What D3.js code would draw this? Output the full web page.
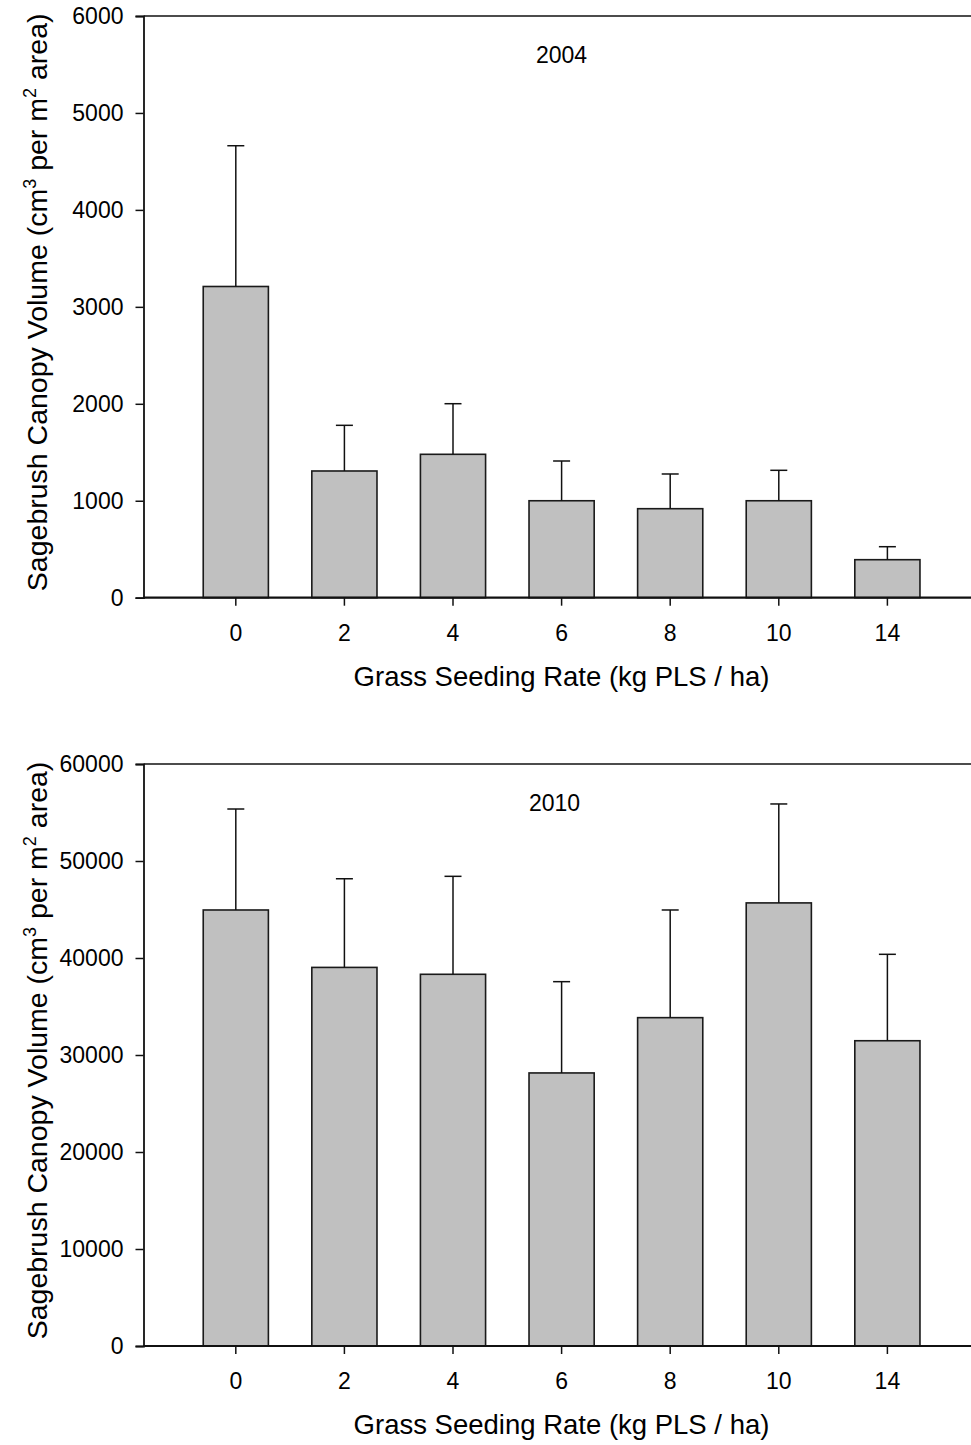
<!DOCTYPE html>
<html>
<head>
<meta charset="utf-8">
<script src="https://cdn.jsdelivr.net/npm/d3@7"></script>
<style>
  html, body { margin: 0; padding: 0; background: #fff; }
  svg { display: block; font-family: "Liberation Sans", Arial, sans-serif; }
</style>
</head>
<body>
<svg id="chart" width="971" height="1445"></svg>
<script>
const categories = ["0", "2", "4", "6", "8", "10", "14"];
const means2004 = [3210, 1307, 1479, 1000, 918, 1000, 392];
const upper2004 = [4662, 1778, 2001, 1410, 1276, 1314, 526];
const means2010 = [44950, 39030, 38320, 28150, 33850, 45680, 31470];
const upper2010 = [55360, 48170, 48420, 37560, 44950, 55880, 40380];
const yTicks2004 = [0, 1000, 2000, 3000, 4000, 5000, 6000];
const yTicks2010 = [0, 10000, 20000, 30000, 40000, 50000, 60000];
const panelLabels = ["2004", "2010"];
const xTitle = "Grass Seeding Rate (kg PLS / ha)";

const svg = d3.select("#chart");
const W = 971;

function panel(cfg) {
  const g = svg.append("g");
  const left = 143.5, top = cfg.top, bottom = cfg.bottom;
  const x = d3.scaleBand().domain(categories).range([left, 979.7])
    .paddingInner(0.4).paddingOuter(0.55);
  const y = d3.scaleLinear().domain([0, cfg.max]).range([bottom, top]);

  // bars
  g.selectAll("rect.bar").data(cfg.means).join("rect")
    .attr("x", (d, i) => x(categories[i]))
    .attr("y", d => y(d))
    .attr("width", x.bandwidth())
    .attr("height", d => y(0) - y(d))
    .attr("fill", "#c0c0c0")
    .attr("stroke", "#1a1a1a")
    .attr("stroke-width", 1.6);

  // error bars
  const cx = i => x(categories[i]) + x.bandwidth() / 2;
  g.selectAll("line.err").data(cfg.upper).join("line")
    .attr("x1", (d, i) => cx(i)).attr("x2", (d, i) => cx(i))
    .attr("y1", (d, i) => y(cfg.means[i])).attr("y2", d => y(d))
    .attr("stroke", "#111").attr("stroke-width", 1.5);
  g.selectAll("line.cap").data(cfg.upper).join("line")
    .attr("x1", (d, i) => cx(i) - 8.5).attr("x2", (d, i) => cx(i) + 8.5)
    .attr("y1", d => y(d)).attr("y2", d => y(d))
    .attr("stroke", "#111").attr("stroke-width", 1.5);

  // top frame line
  g.append("line").attr("x1", left).attr("x2", W).attr("y1", y(cfg.max)).attr("y2", y(cfg.max))
    .attr("stroke", "#111").attr("stroke-width", 1.5);

  // y axis
  const ya = g.append("g").attr("transform", `translate(${left},0)`)
    .call(d3.axisLeft(y).tickValues(cfg.ticks).tickFormat(d3.format("d")).tickSizeOuter(0).tickSize(8).tickPadding(12));
  ya.select(".domain").attr("stroke", "#111").attr("stroke-width", 1.8);
  ya.selectAll(".tick line").attr("stroke", "#111").attr("stroke-width", 1.5);
  ya.selectAll(".tick text").attr("font-size", 23).attr("fill", "#000")
    .attr("font-family", "Liberation Sans, Arial, sans-serif");

  // x axis
  const xa = g.append("g").attr("transform", `translate(0,${bottom})`)
    .call(d3.axisBottom(x).tickSizeOuter(0).tickSize(8).tickPadding(19));
  xa.select(".domain").attr("stroke", "#111").attr("stroke-width", 2.2)
    .attr("d", `M${left},0H${W}`);
  xa.selectAll(".tick line").attr("stroke", "#111").attr("stroke-width", 1.5);
  xa.selectAll(".tick text").attr("font-size", 23).attr("fill", "#000")
    .attr("font-family", "Liberation Sans, Arial, sans-serif");

  // panel label
  g.append("text").attr("x", cfg.labelX).attr("y", cfg.labelY)
    .attr("text-anchor", "middle").attr("font-size", 23).text(cfg.label);

  // x title
  g.append("text").attr("x", 561.5).attr("y", bottom + 88)
    .attr("text-anchor", "middle").attr("font-size", 27.5).text(xTitle);

  // y title
  const cy = (top + bottom) / 2 - 4.5;
  const t = g.append("text").attr("transform", `translate(47,${cy}) rotate(-90)`)
    .attr("text-anchor", "middle").attr("font-size", 28.5);
  t.append("tspan").text("Sagebrush Canopy Volume (cm");
  t.append("tspan").attr("font-size", 18).attr("dy", -11).text("3");
  t.append("tspan").attr("dy", 11).text(" per m");
  t.append("tspan").attr("font-size", 18).attr("dy", -11).text("2");
  t.append("tspan").attr("dy", 11).text(" area)");
}

panel({ top: 16, bottom: 597.7, max: 6000, ticks: yTicks2004, means: means2004, upper: upper2004,
        label: panelLabels[0], labelX: 561.5, labelY: 62.5 });
panel({ top: 764, bottom: 1346, max: 60000, ticks: yTicks2010, means: means2010, upper: upper2010,
        label: panelLabels[1], labelX: 554.5, labelY: 811 });
</script>
</body>
</html>
